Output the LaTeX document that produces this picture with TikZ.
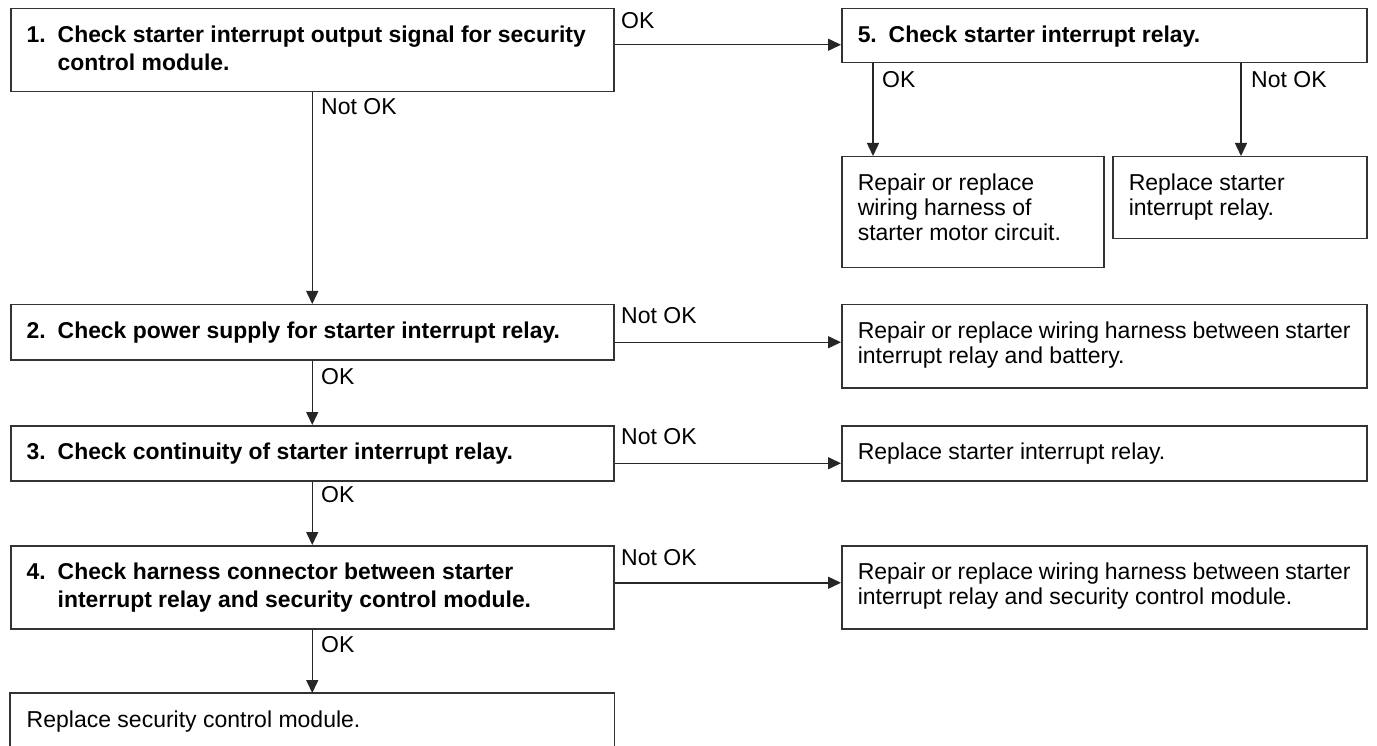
\documentclass[tikz,border=0pt]{standalone}
\usepackage{fontspec}
\setmainfont{Liberation Sans}
\usetikzlibrary{arrows.meta,calc}
% box text: #1 box height, #2 text width, #3 text (top aligned)
\newcommand{\bt}[3]{\parbox[c][#1][t]{#2}{\vspace*{17pt}\raggedright #3}}
\newcommand{\btb}[3]{\parbox[c][#1][t]{#2}{\fontsize{22.9}{28}\selectfont\bfseries\vspace*{17pt}\raggedright #3}}
\newcommand{\nm}[1]{\makebox[31pt][l]{#1}}
\begin{document}
\begin{tikzpicture}[x=1pt,y=-1pt,font=\fontsize{23}{25}\selectfont,
  box/.style={draw=black!80,line width=1.5pt,anchor=north west,inner xsep=16pt,inner ysep=0pt},
  arr/.style={draw=black!85,line width=1.5pt,-{Triangle[length=13pt,width=12pt]}},
  ln/.style={draw=black!80,line width=1.5pt},
  lab/.style={anchor=west,inner sep=0pt}]
\useasboundingbox (0,0) rectangle (1377,746);
% main column
\node[box] (b1) at (10,8) {\btb{83pt}{571pt}{\nm{1.}Check starter interrupt output signal for security\\\hspace*{31pt}control module.}};
\node[box] (b2) at (10,304) {\btb{55pt}{571pt}{\nm{2.}Check power supply for starter interrupt relay.}};
\node[box] (b3) at (10,425) {\btb{55pt}{571pt}{\nm{3.}Check continuity of starter interrupt relay.}};
\node[box] (b4) at (10,545) {\btb{83pt}{571pt}{\nm{4.}Check harness connector between starter\\\hspace*{31pt}interrupt relay and security control module.}};
\node[box,draw=none] (b6) at (10,693) {\bt{70pt}{571pt}{Replace security control module.}};
\draw[ln] (b6.south west) |- (b6.north east) -- (b6.south east);
% right column
\node[box] (b5) at (841,8) {\btb{54pt}{493pt}{\nm{5.}Check starter interrupt relay.}};
\node[box] (bA) at (841,156) {\bt{111pt}{230pt}{Repair or replace\\wiring harness of\\starter motor circuit.}};
\node[box] (bB) at (1112,156) {\bt{82pt}{222pt}{Replace starter\\interrupt relay.}};
\node[box] (bC) at (841,304) {\bt{83pt}{493pt}{Repair or replace wiring harness between starter\\interrupt relay and battery.}};
\node[box] (bD) at (841,425) {\bt{55pt}{493pt}{Replace starter interrupt relay.}};
\node[box] (bE) at (841,545) {\bt{83pt}{493pt}{Repair or replace wiring harness between starter\\interrupt relay and security control module.}};
% connectors
\draw[arr] ([yshift=5.5pt]b1.east) -- ([yshift=5.5pt]b1.east -| b5.west);
\draw[arr] (b1.south) -- (b2.north);
\draw[arr] (b2.south) -- (b3.north);
\draw[arr] (b3.south) -- (b4.north);
\draw[arr] (b4.south) -- (b6.north);
\draw[arr] ([xshift=32pt]bA.north west |- b5.south) -- ([xshift=32pt]bA.north west);
\draw[arr] ([xshift=129pt]bB.north west |- b5.south) -- ([xshift=129pt]bB.north west);
\draw[arr] ([yshift=-10pt]b2.east) -- ([yshift=-10pt]b2.east -| bC.west);
\draw[arr] ([yshift=-10pt]b3.east) -- ([yshift=-10pt]b3.east -| bD.west);
\draw[arr] ([yshift=4.5pt]b4.east) -- ([yshift=4.5pt]b4.east -| bE.west);
% labels
\node[lab] (l1) at (621,21) {OK};
\node[lab] (l2) at (321,107) {Not OK};
\node[lab] (l3) at (882,80) {OK};
\node[lab] (l4) at (1251,80) {Not OK};
\node[lab] (l5) at (621,316) {Not OK};
\node[lab] (l6) at (321,377) {OK};
\node[lab] (l7) at (621,437) {Not OK};
\node[lab] (l8) at (321,495) {OK};
\node[lab] (l9) at (621,558) {Not OK};
\node[lab] (l10) at (321,645) {OK};
\end{tikzpicture}
\end{document}
